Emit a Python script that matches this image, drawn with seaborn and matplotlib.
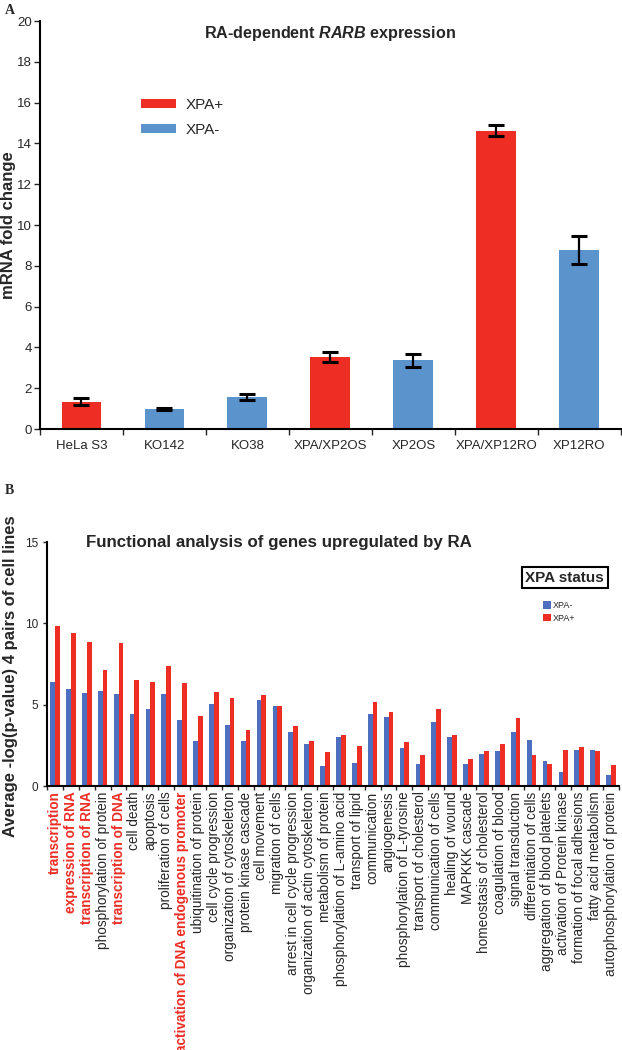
import numpy as np
import pandas as pd
import seaborn as sns
import matplotlib.pyplot as plt

# Panel A: RA-dependent RARB expression
cell_lines = ["HeLa S3", "KO142", "KO38", "XPA/XP2OS", "XP2OS", "XPA/XP12RO", "XP12RO"]
status_a = ["XPA+", "XPA-", "XPA-", "XPA+", "XPA-", "XPA+", "XPA-"]
fold_change = [1.34, 0.98, 1.58, 3.54, 3.38, 14.62, 8.77]
fold_err = [0.18, 0.07, 0.16, 0.25, 0.32, 0.27, 0.68]

# Panel B: functional analysis
functions = [
    "transcription", "expression of RNA", "transcription of RNA",
    "phosphorylation of protein", "transcription of DNA", "cell death",
    "apoptosis", "proliferation of cells",
    "activation of DNA endogenous promoter", "ubiquitination of protein",
    "cell cycle progression", "organization of cytoskeleton",
    "protein kinase cascade", "cell movement", "migration of cells",
    "arrest in cell cycle progression", "organization of actin cytoskeleton",
    "metabolism of protein", "phosphorylation of L-amino acid",
    "transport of lipid", "communication", "angiogenesis",
    "phosphorylation of L-tyrosine", "transport of cholesterol",
    "communication of cells", "healing of wound", "MAPKKK cascade",
    "homeostasis of cholesterol", "coagulation of blood",
    "signal transduction", "differentiation of cells",
    "aggregation of blood platelets", "activation of Protein kinase",
    "formation of focal adhesions", "fatty acid metabolism",
    "autophosphorylation of protein",
]
xpa_minus = [6.42, 5.99, 5.73, 5.85, 5.64, 4.40, 4.76, 5.66, 4.03, 2.74,
             5.03, 3.76, 2.74, 5.26, 4.95, 3.33, 2.60, 1.21, 3.01, 1.43,
             4.44, 4.25, 2.33, 1.37, 3.91, 3.01, 1.37, 1.94, 2.17, 3.33,
             2.86, 1.53, 0.84, 2.23, 2.23, 0.67]
xpa_plus = [9.84, 9.41, 8.83, 7.12, 8.79, 6.54, 6.38, 7.40, 6.32, 4.29,
            5.81, 5.42, 3.46, 5.58, 4.89, 3.70, 2.76, 2.11, 3.13, 2.43,
            5.15, 4.52, 2.70, 1.90, 4.74, 3.13, 1.64, 2.17, 2.60, 4.19,
            1.90, 1.37, 2.23, 2.39, 2.17, 1.27]
highlighted = ["transcription", "expression of RNA", "transcription of RNA",
               "transcription of DNA", "activation of DNA endogenous promoter"]

red = "#EE2D24"
blue_a = "#5B93CD"
blue_b = "#4E6EBF"

sns.set_style("ticks")
plt.rcParams['font.family'] = ['Liberation Sans', 'DejaVu Sans']
plt.rcParams['mathtext.fontset'] = 'custom'
plt.rcParams['mathtext.bfit'] = 'Liberation Sans:italic:bold'

fig = plt.figure(figsize=(6.22, 10.5), dpi=100)
ax_a = fig.add_axes([0.0643, 0.5914, 0.9337, 0.3886])
ax_b = fig.add_axes([0.0756, 0.2514, 0.9194, 0.2324])

# ---- Panel A ----
df_a = pd.DataFrame({"line": cell_lines, "status": status_a, "fold": fold_change})
sns.barplot(data=df_a, x="line", y="fold", hue="status", hue_order=["XPA+", "XPA-"],
            palette={"XPA+": red, "XPA-": blue_a}, dodge=False, width=0.48,
            errorbar=None, ax=ax_a, saturation=1, linewidth=0)
ax_a.errorbar(range(len(cell_lines)), fold_change, yerr=fold_err, fmt="none",
              ecolor="black", elinewidth=1.6, capsize=5.5, capthick=2.2)
ax_a.set_ylim(0, 20)
ax_a.set_xlim(-0.5, len(cell_lines) - 0.5)
ax_a.set_yticks(range(0, 21, 2))
ax_a.set_xlabel("")
ax_a.set_ylabel("mRNA fold change", fontsize=12, fontweight="bold")
ax_a.yaxis.set_label_coords(-0.042, 0.5)
ax_a.set_xticks(np.arange(-0.5, len(cell_lines), 1), minor=True)
ax_a.tick_params(axis="x", which="major", length=0, labelsize=9.5, pad=8)
ax_a.tick_params(axis="x", which="minor", length=4, width=1)
ax_a.tick_params(axis="y", length=4, width=1, labelsize=9.5, pad=2)
for s in ["left", "bottom"]:
    ax_a.spines[s].set_linewidth(1.5)
    ax_a.spines[s].set_color("black")
sns.despine(ax=ax_a)
ax_a.text(0.5, 0.97, r"RA-dependent $\mathbfit{RARB}$ expression", transform=ax_a.transAxes,
          ha="center", va="center", fontsize=11.6, fontweight="bold")
ax_a.legend(loc="upper left", bbox_to_anchor=(0.15, 0.845), frameon=False,
            fontsize=11, handlelength=2.3, handleheight=0.5, labelspacing=0.7,
            handletextpad=0.6)

# ---- Panel B ----
df_b = pd.DataFrame({
    "function": functions * 2,
    "status": ["XPA-"] * len(functions) + ["XPA+"] * len(functions),
    "score": xpa_minus + xpa_plus,
})
sns.barplot(data=df_b, x="function", y="score", hue="status", hue_order=["XPA-", "XPA+"],
            palette={"XPA-": blue_b, "XPA+": red}, width=0.6, errorbar=None,
            ax=ax_b, saturation=1, linewidth=0)
ax_b.set_ylim(0, 15)
ax_b.set_xlim(-0.5, len(functions) - 0.5)
ax_b.set_yticks([0, 5, 10, 15])
ax_b.set_xlabel("")
ax_b.set_ylabel("Average -log(p-value) 4 pairs of cell lines", fontsize=12,
                fontweight="bold")
ax_b.yaxis.set_label_coords(-0.05, 0.45)
ax_b.set_xticks(np.arange(-0.5, len(functions), 1), minor=True)
ax_b.tick_params(axis="x", which="major", length=0, labelsize=9.8, pad=4, rotation=90)
ax_b.tick_params(axis="x", which="minor", length=3, width=1)
ax_b.tick_params(axis="y", length=3, width=1, labelsize=8.5)
for lab in ax_b.get_xticklabels():
    if lab.get_text() in highlighted:
        lab.set_color(red)
        lab.set_fontweight("bold")
for s in ["left", "bottom"]:
    ax_b.spines[s].set_linewidth(1.5)
    ax_b.spines[s].set_color("black")
sns.despine(ax=ax_b)
handles, labels = ax_b.get_legend_handles_labels()
ax_b.legend(handles, labels, loc="upper left", bbox_to_anchor=(0.866, 0.432),
            bbox_transform=fig.transFigure, frameon=False, fontsize=6.5,
            handlelength=0.9, handleheight=0.9, handletextpad=0.2, labelspacing=0.4,
            borderpad=0)
fig.text(0.908, 0.45, "XPA status", ha="center", va="center", fontsize=11,
         fontweight="bold",
         bbox=dict(boxstyle="square,pad=0.25", facecolor="white", edgecolor="black", linewidth=1.5))
fig.text(0.138, 0.483, "Functional analysis of genes upregulated by RA", ha="left",
         va="center", fontsize=12.2, fontweight="bold")

# panel letters
fig.text(0.008, 0.99, "A", fontsize=10, fontweight="bold", family="Liberation Serif", va="center")
fig.text(0.008, 0.533, "B", fontsize=10, fontweight="bold", family="Liberation Serif", va="center")

fig.savefig("out.png", dpi=100)
